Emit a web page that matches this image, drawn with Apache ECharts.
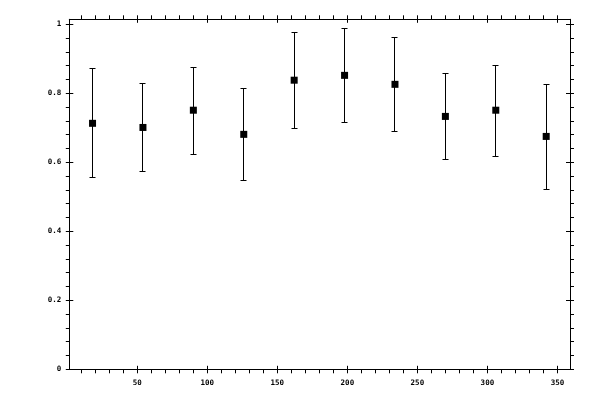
<!DOCTYPE html>
<html>
<head>
    <meta charset="UTF-8">
    <title>Error bars</title>
    <script src="https://cdn.jsdelivr.net/npm/echarts@6/dist/echarts.min.js"></script>
    <style>
        body { margin: 0; background: #fff; }
        #chart { width: 600px; height: 400px; }
    </style>
</head>
<body>
<div id="chart"></div>
<script>
    // bin centres (degrees) with mean and error-bar ends
    var angles = [18, 54, 90, 126, 162, 198, 234, 270, 306, 342];
    var means = [0.713, 0.701, 0.751, 0.681, 0.838, 0.852, 0.826, 0.733, 0.751, 0.675];
    var upper = [0.872, 0.829, 0.875, 0.8145, 0.977, 0.988, 0.962, 0.858, 0.881, 0.826];
    var lower = [0.557, 0.574, 0.623, 0.548, 0.699, 0.716, 0.690, 0.609, 0.617, 0.522];

    // tick marks
    var xMajor = [50, 100, 150, 200, 250, 300, 350];
    var xMinor = [10, 20, 30, 40, 50, 60, 70, 80, 90, 100, 110, 120, 130, 140, 150, 160, 170, 180,
        190, 200, 210, 220, 230, 240, 250, 260, 270, 280, 290, 300, 310, 320, 330, 340, 350];
    var yMajor = [0, 0.2, 0.4, 0.6, 0.8, 1];
    var yMinor = [0, 0.04, 0.08, 0.12, 0.16, 0.2, 0.24, 0.28, 0.32, 0.36, 0.4, 0.44, 0.48, 0.52,
        0.56, 0.6, 0.64, 0.68, 0.72, 0.76, 0.8, 0.84, 0.88, 0.92, 0.96, 1];

    var xMin = 1.4, xMax = 359;
    var yMin = 0, yMax = 1.0145;

    var ink = '#000';
    var labelFont = {color: ink, fontFamily: 'DejaVu Sans Mono', fontSize: 7.5, fontWeight: 'bold'};

    function xAx(position, withLine, inside, ticks, len, labels, margin) {
        return {
            type: 'value', position: position, min: xMin, max: xMax,
            axisLine: {show: withLine, onZero: false, lineStyle: {color: ink, width: 1}},
            axisTick: {show: true, inside: inside, length: len, customValues: ticks, lineStyle: {color: ink, width: 1}},
            axisLabel: labels ? Object.assign({show: true, customValues: labels, margin: margin}, labelFont) : {show: false},
            splitLine: {show: false}
        };
    }

    function yAx(position, withLine, inside, ticks, len, labels, margin) {
        return {
            type: 'value', position: position, min: yMin, max: yMax,
            axisLine: {show: withLine, onZero: false, lineStyle: {color: ink, width: 1}},
            axisTick: {show: true, inside: inside, length: len, customValues: ticks, lineStyle: {color: ink, width: 1}},
            axisLabel: labels ? Object.assign({show: true, customValues: labels, margin: margin}, labelFont) : {show: false},
            splitLine: {show: false}
        };
    }

    // snap to pixel centre so 1px strokes stay crisp
    function crisp(v) { return Math.round(v - 0.5) + 0.5; }

    var chart = echarts.init(document.getElementById('chart'), null, {renderer: 'canvas'});

    var barData = angles.map(function (a, i) { return [a, lower[i], upper[i]]; });
    var pointData = angles.map(function (a, i) { return [a, means[i]]; });

    chart.setOption({
        animation: false,
        backgroundColor: '#fff',
        grid: {left: 69.3, top: 19.3, right: 30, bottom: 30.7, containLabel: false},
        xAxis: [
            xAx('bottom', true, false, xMinor, 4, xMajor, 9.5),
            xAx('bottom', false, true, xMajor, 3.5),
            xAx('top', true, false, xMinor, 4),
            xAx('top', false, true, xMajor, 3.5)
        ],
        yAxis: [
            yAx('left', true, false, yMinor, 3.5, yMajor, 8),
            yAx('left', false, true, yMajor, 4),
            yAx('right', true, false, yMinor, 4),
            yAx('right', false, true, yMajor, 4)
        ],
        series: [
            {
                type: 'custom',
                xAxisIndex: 0,
                yAxisIndex: 0,
                encode: {x: 0, y: [1, 2]},
                data: barData,
                renderItem: function (params, api) {
                    var top = api.coord([api.value(0), api.value(2)]);
                    var bot = api.coord([api.value(0), api.value(1)]);
                    var x = crisp(top[0]), y1 = crisp(top[1]), y2 = crisp(bot[1]);
                    var cap = 3;
                    var style = {stroke: ink, lineWidth: 1};
                    return {
                        type: 'group',
                        children: [
                            {type: 'line', shape: {x1: x, y1: y1, x2: x, y2: y2}, style: style},
                            {type: 'line', shape: {x1: x - cap, y1: y1, x2: x + cap, y2: y1}, style: style},
                            {type: 'line', shape: {x1: x - cap, y1: y2, x2: x + cap, y2: y2}, style: style}
                        ]
                    };
                }
            },
            {
                type: 'scatter',
                xAxisIndex: 0,
                yAxisIndex: 0,
                symbol: 'rect',
                symbolSize: 7,
                itemStyle: {color: ink, opacity: 1},
                z: 5,
                data: pointData
            }
        ]
    });
</script>
</body>
</html>
